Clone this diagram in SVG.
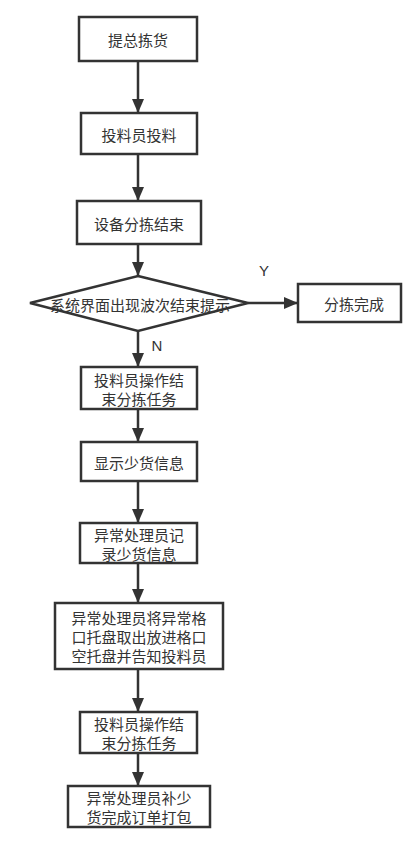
<svg xmlns="http://www.w3.org/2000/svg" width="419" height="844" viewBox="0 0 419 844">
<style>
.box{fill:#fff;stroke:#333;stroke-width:2.5}
.t{font-family:"Noto Sans CJK SC","Liberation Sans",sans-serif;font-size:15px;fill:#333;text-anchor:middle;dominant-baseline:central}
.l{font-family:"Liberation Sans",sans-serif;font-size:15px;fill:#333;text-anchor:middle;dominant-baseline:central}
.c{stroke:#333;stroke-width:2.5;fill:none;marker-end:url(#a)}
</style>
<defs>
<marker id="a" markerUnits="userSpaceOnUse" markerWidth="14" markerHeight="14" viewBox="0 0 14 14" refX="14" refY="7" orient="auto">
<path d="M0,1 L14,7 L0,13 Z" fill="#333"/>
</marker>
</defs>
<rect width="419" height="844" fill="#fff"/>
<g id="connectors">
<line class="c" x1="138" y1="61" x2="138" y2="113"/>
<line class="c" x1="138" y1="154" x2="138" y2="201"/>
<line class="c" x1="138" y1="244" x2="138" y2="276"/>
<line class="c" x1="248" y1="303" x2="298" y2="303"/>
<line class="c" x1="138" y1="331" x2="138" y2="367"/>
<line class="c" x1="138" y1="409" x2="138" y2="442"/>
<line class="c" x1="138" y1="481" x2="138" y2="523"/>
<line class="c" x1="138" y1="563" x2="138" y2="603"/>
<line class="c" x1="138" y1="669" x2="138" y2="712"/>
<line class="c" x1="138" y1="753" x2="138" y2="786"/>
<text class="l" x="264" y="270">Y</text>
<text class="l" x="157" y="345">N</text>
</g>
<g id="n1"><rect class="box" x="79" y="17" width="118" height="44"/><text class="t" x="138" y="39">提总拣货</text></g>
<g id="n2"><rect class="box" x="81" y="113" width="116" height="41"/><text class="t" x="139" y="134">投料员投料</text></g>
<g id="n3"><rect class="box" x="77" y="201" width="124" height="43"/><text class="t" x="139" y="223">设备分拣结束</text></g>
<g id="n4"><polygon class="box" points="138,276 248,303 138,331 30,303"/><text class="t" x="140" y="304">系统界面出现波次结束提示</text></g>
<g id="n5"><rect class="box" x="298" y="284" width="103" height="38"/><text class="t" x="354" y="303">分拣完成</text></g>
<g id="n6"><rect class="box" x="81" y="367" width="116" height="42"/><text class="t" x="139" y="379">投料员操作结</text><text class="t" x="139" y="398">束分拣任务</text></g>
<g id="n7"><rect class="box" x="81" y="442" width="116" height="39"/><text class="t" x="139" y="462">显示少货信息</text></g>
<g id="n8"><rect class="box" x="80" y="523" width="117" height="40"/><text class="t" x="139" y="534">异常处理员记</text><text class="t" x="139" y="553">录少货信息</text></g>
<g id="n9"><rect class="box" x="55" y="603" width="168" height="66"/><text class="t" x="139" y="617">异常处理员将异常格</text><text class="t" x="139" y="636">口托盘取出放进格口</text><text class="t" x="139" y="655">空托盘并告知投料员</text></g>
<g id="n10"><rect class="box" x="80" y="712" width="117" height="41"/><text class="t" x="139" y="723">投料员操作结</text><text class="t" x="139" y="742">束分拣任务</text></g>
<g id="n11"><rect class="box" x="68" y="786" width="142" height="41"/><text class="t" x="139" y="797">异常处理员补少</text><text class="t" x="139" y="816">货完成订单打包</text></g>
</svg>
